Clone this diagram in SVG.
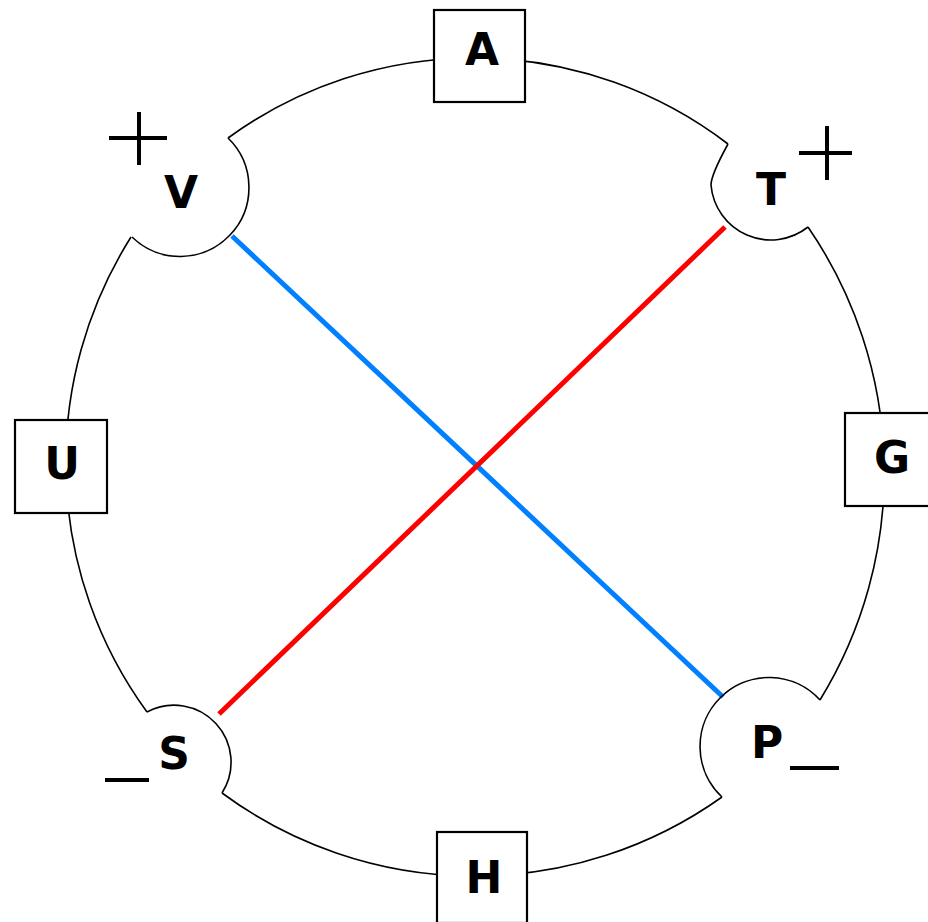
<svg xmlns="http://www.w3.org/2000/svg" width="928" height="922" viewBox="0 0 928 922">
<style>
.ring{fill:none;stroke:#000;stroke-width:1.6}
.box{fill:#fff;stroke:#000;stroke-width:2.2}
.lbl{font-family:"DejaVu Sans",sans-serif;font-weight:bold;font-size:44px;text-anchor:middle;fill:#000}
.sign{stroke:#000;stroke-width:4;fill:none}
.wire{fill:none;stroke-width:5;stroke-linecap:butt}
</style>
<rect width="928" height="922" fill="#fff"/>
<g id="ring">
<path class="ring" d="M228,138 A418,418 0 0 1 728,144"/>
<path class="ring" d="M808,227 A434,434 0 0 1 820,700"/>
<path class="ring" d="M722,797 A426,426 0 0 1 222,793"/>
<path class="ring" d="M147,712 A423,423 0 0 1 131,237"/>
</g>
<g id="connectors">
<line class="wire" x1="232" y1="236" x2="723" y2="697" stroke="#0080ff"/>
<line class="wire" x1="725" y1="227" x2="219" y2="714" stroke="#ff0000"/>
</g>
<g id="V">
<path class="ring" d="M228,138 A68,68 0 1 1 132,237"/>
<text class="lbl" x="181" y="208">V</text>
<path class="sign" d="M109,138H167M139,112V165"/>
</g>
<g id="T">
<path class="ring" d="M728,144 Q711,175 711,185 A60,60 0 0 0 808,227"/>
<text class="lbl" x="771" y="205">T</text>
<path class="sign" d="M799,153H852M827,126V180"/>
</g>
<g id="S">
<path class="ring" d="M147,712 A57,57 0 0 1 222,793"/>
<text class="lbl" x="174" y="769">S</text>
<path class="sign" d="M105,780H149"/>
</g>
<g id="P">
<path class="ring" d="M820,700 A69,69 0 1 0 722,797"/>
<text class="lbl" x="767" y="758">P</text>
<path class="sign" d="M790,768H839"/>
</g>
<g id="A">
<rect class="box" x="434" y="10" width="91" height="92"/>
<text class="lbl" x="482" y="65">A</text>
</g>
<g id="H">
<rect class="box" x="437" y="832" width="90" height="91"/>
<text class="lbl" x="484" y="893">H</text>
</g>
<g id="U">
<rect class="box" x="15" y="420" width="92" height="93"/>
<text class="lbl" x="62" y="479">U</text>
</g>
<g id="G">
<rect class="box" x="845" y="413" width="92" height="93"/>
<text class="lbl" x="892" y="473">G</text>
</g>
</svg>
